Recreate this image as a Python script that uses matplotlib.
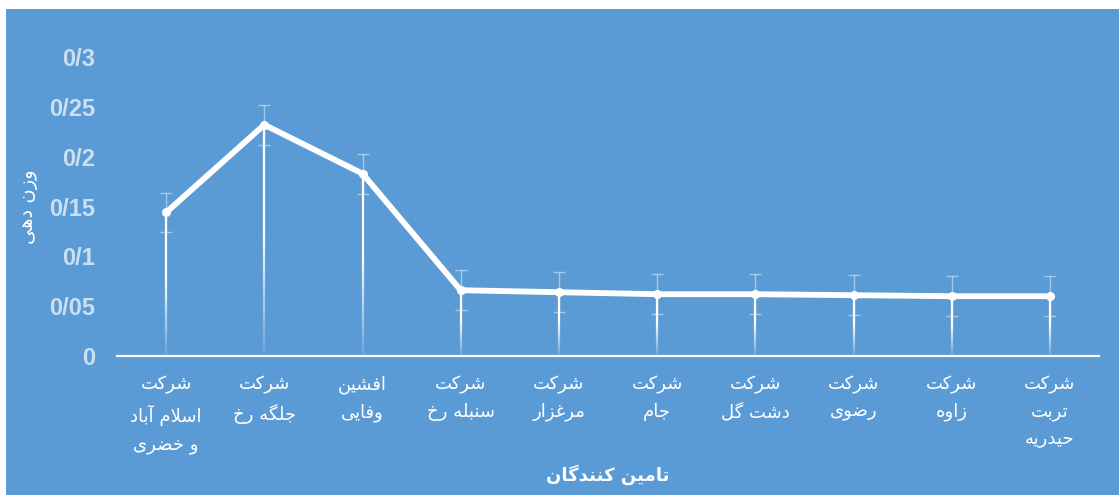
import numpy as np
import matplotlib
matplotlib.use("Agg")
import matplotlib.pyplot as plt
from matplotlib.collections import LineCollection
from matplotlib.patches import Rectangle

# ---- data ----
suppliers = [
    "شرکت\nاسلام آباد\nو خضری",
    "شرکت\nجلگه رخ",
    "افشین\nوفایی",
    "شرکت\nسنبله رخ",
    "شرکت\nمرغزار",
    "شرکت\nجام",
    "شرکت\nدشت گل",
    "شرکت\nرضوی",
    "شرکت\nزاوه",
    "شرکت\nتربت\nحیدریه",
]
weights = [0.144, 0.232, 0.183, 0.066, 0.064, 0.062, 0.062, 0.061, 0.060, 0.060]
errors = [0.02, 0.02, 0.02, 0.02, 0.02, 0.02, 0.02, 0.02, 0.02, 0.02]
yticks = [0, 0.05, 0.1, 0.15, 0.2, 0.25, 0.3]
ytick_labels = ["0", "0/05", "0/1", "0/15", "0/2", "0/25", "0/3"]
xlabel = "تامین کنندگان"
ylabel = "وزن دهی"

# ---- tiny arabic/persian shaper (matplotlib has no text shaping) ----
FORMS = {
    "ا": (0xFE8D, 0xFE8E), "آ": (0xFE81, 0xFE82),
    "ب": (0xFE8F, 0xFE90, 0xFE91, 0xFE92), "ت": (0xFE95, 0xFE96, 0xFE97, 0xFE98),
    "ج": (0xFE9D, 0xFE9E, 0xFE9F, 0xFEA0), "ح": (0xFEA1, 0xFEA2, 0xFEA3, 0xFEA4),
    "خ": (0xFEA5, 0xFEA6, 0xFEA7, 0xFEA8), "د": (0xFEA9, 0xFEAA),
    "ر": (0xFEAD, 0xFEAE), "ز": (0xFEAF, 0xFEB0),
    "س": (0xFEB1, 0xFEB2, 0xFEB3, 0xFEB4), "ش": (0xFEB5, 0xFEB6, 0xFEB7, 0xFEB8),
    "ض": (0xFEBD, 0xFEBE, 0xFEBF, 0xFEC0), "غ": (0xFECD, 0xFECE, 0xFECF, 0xFED0),
    "ف": (0xFED1, 0xFED2, 0xFED3, 0xFED4), "ک": (0xFB8E, 0xFB8F, 0xFB90, 0xFB91),
    "گ": (0xFB92, 0xFB93, 0xFB94, 0xFB95), "ل": (0xFEDD, 0xFEDE, 0xFEDF, 0xFEE0),
    "م": (0xFEE1, 0xFEE2, 0xFEE3, 0xFEE4), "ن": (0xFEE5, 0xFEE6, 0xFEE7, 0xFEE8),
    "ه": (0xFEE9, 0xFEEA, 0xFEEB, 0xFEEC), "و": (0xFEED, 0xFEEE),
    "ی": (0xFBFC, 0xFBFD, 0xFBFE, 0xFBFF),
}
LAM_ALEF = {"ا": (0xFEFB, 0xFEFC), "آ": (0xFEF5, 0xFEF6)}


def shape_line(s):
    out = []
    i = 0
    while i < len(s):
        c = s[i]
        if c not in FORMS:
            out.append(c)
            i += 1
            continue
        prev = s[i - 1] if i > 0 else ""
        joins_prev = prev in FORMS and len(FORMS[prev]) == 4
        if c == "ل" and i + 1 < len(s) and s[i + 1] in LAM_ALEF:
            f = LAM_ALEF[s[i + 1]]
            out.append(chr(f[1] if joins_prev else f[0]))
            i += 2
            continue
        nxt = s[i + 1] if i + 1 < len(s) else ""
        f = FORMS[c]
        joins_next = len(f) == 4 and nxt in FORMS
        if joins_prev and joins_next:
            g = f[3]
        elif joins_prev:
            g = f[1]
        elif joins_next:
            g = f[2]
        else:
            g = f[0]
        out.append(chr(g))
        i += 1
    return "".join(out)[::-1]


def shape(s):
    return "\n".join(shape_line(l) for l in s.split("\n"))


BLUE = "#5B9BD5"
TICKCOL = "#cbdff2"

fig = plt.figure(figsize=(11.19, 4.95), dpi=100, facecolor="white")
fig.patches.append(Rectangle((6 / 1119, 0), 1 - 6 / 1119, 1 - 9 / 495,
                             transform=fig.transFigure, facecolor=BLUE,
                             edgecolor="none", zorder=-10))

ax = fig.add_axes([117 / 1119, (495 - 356) / 495, 982 / 1119, 299 / 495])
ax.set_facecolor("none")
ax.set_zorder(1)
x = np.arange(len(weights))

# drop lines fading toward the axis
for xi, v in zip(x, weights):
    n = 60
    ys = np.linspace(0, v, n + 1)
    segs = [[(xi, ys[k]), (xi, ys[k + 1])] for k in range(n)]
    fr = (ys[:-1] + ys[1:]) / 2 / v
    alphas = np.clip(0.08 + fr * 1.7, 0, 1)
    cols = [(1, 1, 1, a) for a in alphas]
    ax.add_collection(LineCollection(segs, colors=cols, linewidths=1.6, zorder=2))

ax.errorbar(x, weights, yerr=errors, fmt="none", ecolor=(1, 1, 1, 0.45),
            elinewidth=1, capsize=4.5, capthick=1, zorder=3)
ax.plot(x, weights, color="white", lw=4.2, solid_joinstyle="miter",
        solid_capstyle="round", marker="o", markersize=5.5, zorder=4)

ax.set_xlim(-0.5, len(weights) - 0.5)
ax.set_ylim(0, 0.3)
ax.set_yticks(yticks)
ax.set_yticklabels(ytick_labels, fontfamily="Liberation Sans", fontweight="bold",
                   fontsize=17, color=TICKCOL)
ax.set_xticks(x)
ax.set_xticklabels([shape(s) for s in suppliers], fontfamily="DejaVu Sans",
                   fontsize=13, color="white", linespacing=1.65)
ax.tick_params(axis="both", length=0)
ax.tick_params(axis="y", pad=16)
ax.tick_params(axis="x", pad=14)

for side in ["left", "right", "top"]:
    ax.spines[side].set_visible(False)
ax.spines["bottom"].set_color("white")
ax.spines["bottom"].set_linewidth(1.6)

ax.set_xlabel(shape(xlabel), fontfamily="DejaVu Sans", fontweight="bold",
              fontsize=13, color="white")
ax.xaxis.set_label_coords(0.5, -(464 - 356) / 299)
ax.set_ylabel(shape(ylabel), fontfamily="DejaVu Sans", fontsize=14,
              color="white")
ax.yaxis.set_label_coords(-(117 - 38) / 982, 0.5)

fig.savefig("out.png", dpi=100, facecolor="white")
